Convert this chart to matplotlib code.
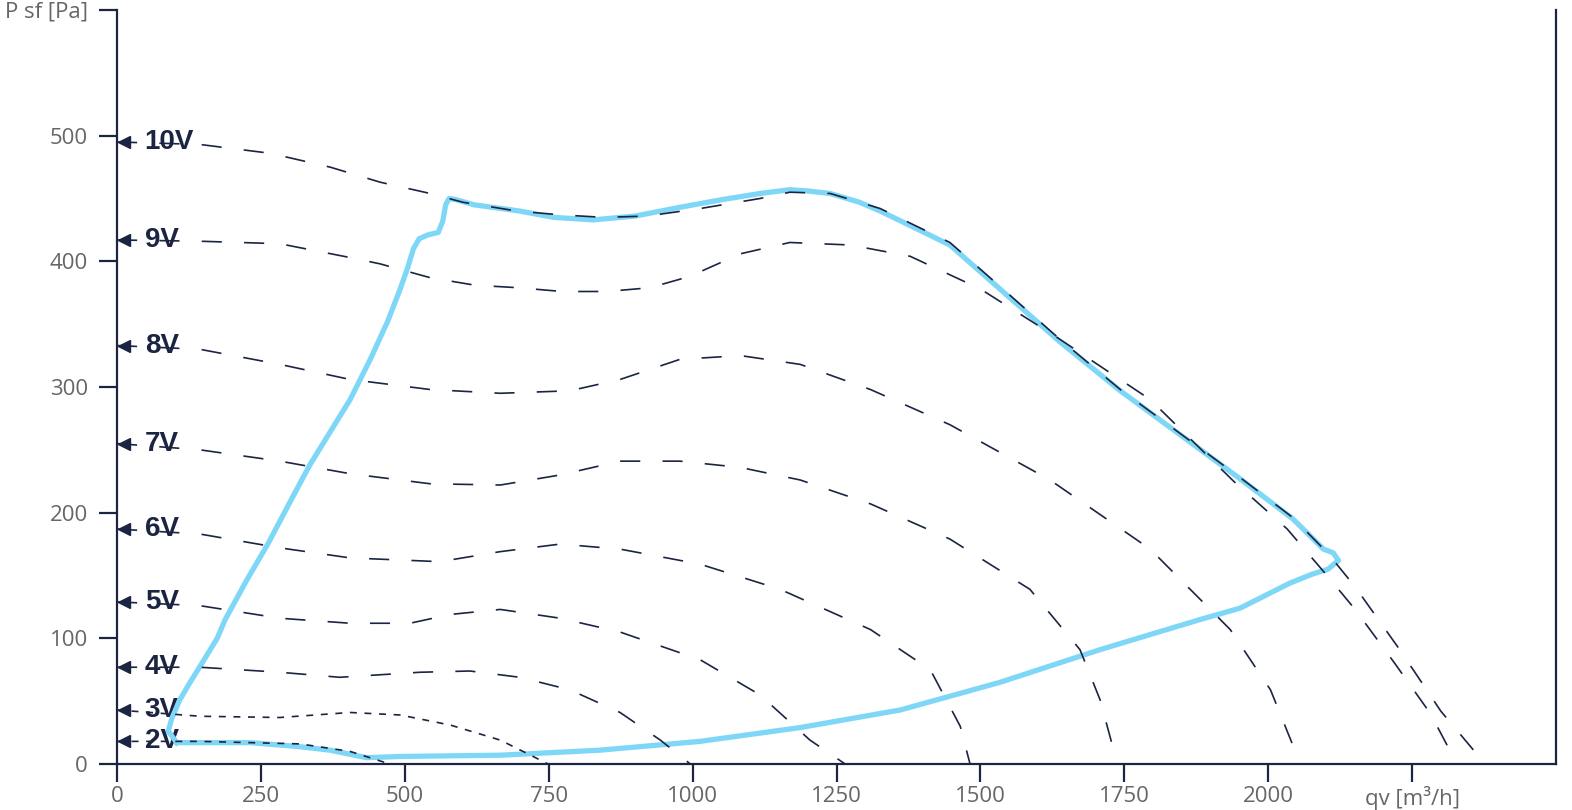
import numpy as np
import matplotlib
matplotlib.use("Agg")
import matplotlib.pyplot as plt

plt.rcParams['lines.scale_dashes'] = False

navy = "#1b2542"
blue = "#7fd7f7"
grey = "#666666"

# fan curves per control voltage (qv m3/h, P sf Pa)
v10_x = [0, 144, 266, 370, 457, 544, 601, 695, 770, 845, 920, 1013, 1117, 1169, 1239, 1326, 1447, 1534, 1638, 1743, 1850, 1951, 2043, 2103, 2151, 2230, 2300, 2377]
v10_y = [495, 493, 486, 475, 463, 454, 447, 440, 437, 435, 436, 442, 450, 455, 454, 442, 415, 380, 338, 298, 262, 228, 196, 168, 141, 90, 42, 0]
v9_x = [0, 144, 283, 405, 457, 544, 622, 697, 773, 851, 926, 995, 1083, 1169, 1274, 1378, 1500, 1638, 1795, 1940, 2033, 2104, 2151, 2220, 2282, 2328]
v9_y = [417, 416, 414, 403, 398, 387, 381, 379, 376, 376, 379, 388, 406, 415, 413, 404, 378, 338, 290, 225, 187, 149, 123, 80, 40, 0]
v8_x = [0, 144, 283, 405, 544, 666, 787, 874, 978, 1083, 1187, 1309, 1447, 1621, 1795, 1934, 2004, 2056]
v8_y = [333, 330, 318, 306, 298, 295, 297, 306, 322, 325, 318, 298, 270, 226, 171, 107, 59, 0]
v7_x = [0, 144, 283, 405, 544, 666, 770, 874, 978, 1083, 1187, 1309, 1447, 1586, 1673, 1708, 1738]
v7_y = [255, 250, 241, 231, 223, 222, 230, 241, 241, 236, 226, 207, 179, 139, 91, 51, 0]
v6_x = [0, 144, 283, 405, 561, 666, 770, 874, 1013, 1152, 1309, 1413, 1465, 1482]
v6_y = [187, 183, 172, 164, 161, 169, 175, 171, 159, 139, 107, 75, 30, 0]
v5_x = [0, 144, 283, 405, 509, 579, 666, 770, 874, 1013, 1117, 1204, 1265]
v5_y = [129, 126, 116, 112, 112, 119, 123, 116, 105, 83, 55, 19, 0]
v4_x = [0, 144, 283, 387, 526, 613, 700, 787, 874, 944, 996]
v4_y = [77, 77, 73, 69, 73, 74, 69, 59, 41, 19, 0]
v3_x = [0, 144, 283, 405, 492, 579, 666, 749]
v3_y = [43, 38, 37, 41, 39, 31, 19, 0]
v2_x = [0, 144, 318, 405, 474]
v2_y = [18, 18, 16, 10, 0]

curves = [("10V", v10_x, v10_y), ("9V", v9_x, v9_y), ("8V", v8_x, v8_y),
          ("7V", v7_x, v7_y), ("6V", v6_x, v6_y), ("5V", v5_x, v5_y),
          ("4V", v4_x, v4_y), ("3V", v3_x, v3_y), ("2V", v2_x, v2_y)]

# working range outline
area_x = [104, 89, 95, 109, 127, 150, 174, 188, 225, 262, 300, 335, 370, 405, 440, 470, 492, 505, 515,
          525, 540, 558, 566, 571, 577, 590, 620, 700, 758, 827, 900, 978, 1050, 1117, 1169, 1200,
          1239, 1290, 1326, 1380, 1447, 1534, 1638, 1743, 1850, 1951, 2043,
          2096, 2113, 2122, 2104, 2076, 2038, 1951, 1882, 1708, 1534, 1361, 1187, 1013, 839, 666,
          492, 434, 370, 313, 231, 104]
area_y = [17, 26, 36, 51, 65, 82, 100, 115, 146, 175, 208, 238, 264, 290, 322, 352, 378, 395, 410,
          418, 421, 423, 432, 445, 450, 449, 445, 440, 435, 433, 436, 443, 449, 454, 457, 456,
          454, 447, 440, 428, 413, 378, 336, 297, 261, 227, 195,
          171, 168, 162, 155, 151, 144, 124, 115, 91, 65, 43, 29, 18, 11, 7,
          6, 5, 11, 14, 17, 17]

xticks = [0, 250, 500, 750, 1000, 1250, 1500, 1750, 2000, 2250]
xlabels = ["0", "250", "500", "750", "1000", "1250", "1500", "1750", "2000", "qv [m³/h]"]
yticks = [0, 100, 200, 300, 400, 500, 600]
ylabels = ["0", "100", "200", "300", "400", "500", "P sf [Pa]"]

fig = plt.figure(figsize=(15.72, 8.10), dpi=100)
ax = fig.add_axes([117 / 1572, 46 / 810, 1439 / 1572, 754 / 810])

ax.plot(area_x, area_y, color=blue, lw=3.8, solid_joinstyle="round", zorder=2)

for name, xs, ys in curves:
    if name in ("2V", "3V"):
        dash = (0, (5, 5.5))
    else:
        dash = (0, (14.5, 16))
    ax.plot(xs, ys, color=navy, lw=1.2, linestyle=dash, zorder=3)
    ax.plot([12], [ys[0]], marker="<", ms=9, color=navy, clip_on=False, zorder=4)
    ax.text(48, ys[0], name, fontsize=20, fontweight="bold", family="Liberation Sans",
            color=navy, va="center", ha="left", zorder=1)

ax.set_xlim(0, 2500)
ax.set_ylim(0, 600)
ax.set_xticks(xticks)
ax.set_xticklabels(xlabels)
ax.set_yticks(yticks)
ax.set_yticklabels(ylabels)
for lab in ax.get_xticklabels() + ax.get_yticklabels():
    lab.set_family("Open Sans")
    lab.set_fontsize(16)
    lab.set_color(grey)

ax.tick_params(axis="x", length=13, width=1.6, color=navy, pad=3)
ax.tick_params(axis="y", length=13, width=1.6, color=navy, pad=8)
ax.spines["top"].set_visible(False)
for s in ("left", "bottom", "right"):
    ax.spines[s].set_color(navy)
    ax.spines[s].set_linewidth(1.6)

fig.savefig("out.png", dpi=100)
